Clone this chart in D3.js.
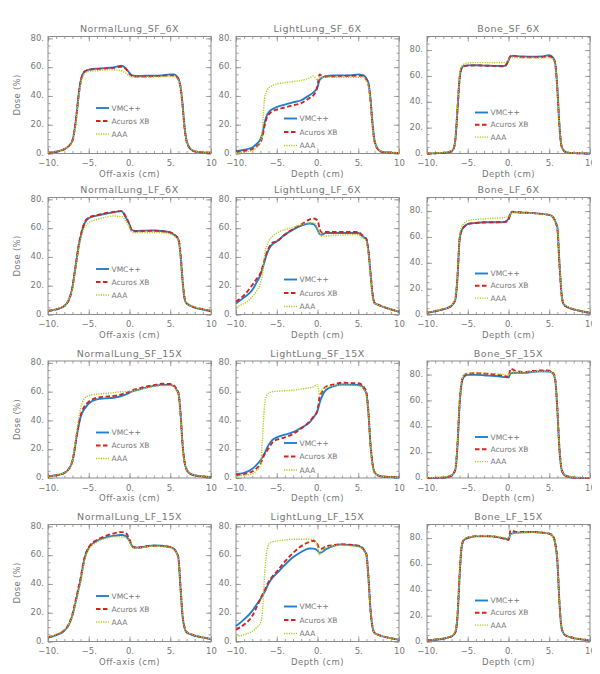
<meta charset="utf-8">
<svg width="600" height="674"></svg>
<script src="https://d3js.org/d3.v7.min.js"></script>
<script>
// sample positions (cm) shared by every profile
var position = [-10, -9, -8, -7.5, -7, -6.75, -6.5, -6.25, -6, -5.75, -5.5, -5, -4, -3, -2, -1, -0.5, 0,
  0.25, 0.5, 1, 2, 3, 4, 5, 5.5, 5.75, 6, 6.25, 6.5, 6.75, 7, 7.5, 8, 9, 10];

var panelTitles = ["NormalLung_SF_6X", "LightLung_SF_6X", "Bone_SF_6X",
  "NormalLung_LF_6X", "LightLung_LF_6X", "Bone_LF_6X",
  "NormalLung_SF_15X", "LightLung_SF_15X", "Bone_SF_15X",
  "NormalLung_LF_15X", "LightLung_LF_15X", "Bone_LF_15X"];
var xTitles = ["Off-axis (cm)", "Depth (cm)", "Depth (cm)"];
var seriesNames = ["VMC++", "Acuros XB", "AAA"];
var xTicks = [-10, -5, 0, 5, 10];
var yTicks = [0, 20, 40, 60, 80];

var vmcDose = [
  [0.5, 1.2, 3, 5, 9, 16, 27, 40, 50, 55, 57, 58.2, 59, 59.3, 59.8, 61, 59.5, 56, 54.5, 54, 53.8, 54, 54, 54.2, 55, 55, 54, 52, 47, 35, 19, 9, 3, 1.5, 0.8, 0.5],
  [1.6, 2.6, 4.2, 6.5, 10, 14, 21, 26, 28.5, 30, 31, 32.3, 34, 35.5, 37, 40.5, 42.5, 46, 51, 52.5, 53.5, 54.2, 54.3, 54.3, 55, 54.5, 54, 52, 49, 38, 21, 9, 2.5, 1, 0.6, 0.4],
  [0, 0.2, 0.4, 0.8, 1.8, 3.5, 12, 35, 58, 66, 67.5, 68.2, 68.3, 68, 67.8, 67.7, 67.7, 72, 75, 75.5, 75.3, 75, 74.8, 75, 76, 74, 69, 50, 22, 6, 2.5, 1.2, 0.5, 0.3, 0.1, 0],
  [2.4, 3.5, 5.9, 9.4, 18.8, 28, 37.6, 47, 54, 59.5, 63.5, 67, 68.7, 70, 71, 71.8, 68, 62.4, 59, 58.3, 58.1, 58.3, 58.4, 58, 57, 55.3, 54, 52, 42, 24, 11, 7.5, 6, 4.8, 3.5, 2.4],
  [7.7, 11.9, 17, 22, 27.5, 32, 36.8, 41.5, 45, 47.5, 49, 50.8, 55.5, 59, 61.8, 63.2, 62.8, 59, 56, 55.5, 56.6, 56.6, 56.6, 56.6, 56.6, 54.3, 53.5, 52, 44, 29, 14, 8, 6.5, 5.4, 3.5, 1.9],
  [1.3, 2.5, 4, 5, 6.6, 8.5, 12, 30, 58, 65, 67.3, 70, 70.8, 71.3, 71.3, 71.3, 71.5, 74, 78, 79.2, 79, 78.7, 78.4, 77.8, 77, 75.2, 72, 67.3, 40, 17, 8, 6.6, 5, 4, 2.5, 1.3],
  [1.2, 1.9, 3.5, 5.9, 11.8, 19, 28.2, 36, 42.4, 46, 48.2, 51.8, 54.6, 55.3, 55.8, 57, 58, 59.3, 60, 60.5, 61.2, 62.8, 64, 64.7, 64.7, 63.5, 61.5, 58.8, 46, 24, 11, 5.9, 2.8, 1.9, 1, 0.7],
  [2.8, 3.6, 6.4, 9, 12.3, 14.5, 17, 20, 23, 25, 26.6, 28.2, 30.1, 31.8, 34.9, 38.5, 42, 46.8, 52, 56, 61, 63.9, 65, 64.8, 64.6, 63.5, 61.5, 58.6, 45, 23, 10, 4, 1.7, 1, 0.6, 0.5],
  [0, 0.1, 0.3, 0.8, 1.8, 3.5, 7, 26, 57, 73, 78, 79.8, 79.8, 79.5, 79, 78.5, 78, 77.8, 81, 81.3, 81.3, 81.3, 82.2, 82.6, 82.4, 80.5, 75, 52, 22, 7, 3, 1.8, 0.8, 0.3, 0.1, 0],
  [2.8, 4.5, 7.5, 11, 18, 24, 30, 36.5, 42.8, 51, 58, 65, 70, 72.2, 73.4, 74, 73.4, 70, 67, 65.5, 65.2, 66, 66.8, 66.5, 65.6, 64, 62, 58, 38, 18, 9.5, 6.4, 5, 4, 2.8, 1.6],
  [10.7, 15.4, 21.3, 25.5, 29.6, 32, 34.3, 37.3, 40.2, 42.5, 44.5, 47.3, 53.3, 58.5, 62.2, 64.6, 64.5, 63.2, 61.5, 62, 64, 66.5, 67.5, 67, 66.3, 65, 63, 60.4, 44, 22, 10, 5.9, 4.5, 3.6, 2.3, 1.2],
  [0.8, 1.4, 2.1, 3, 3.9, 5, 7.3, 20, 50.6, 73, 78.2, 80, 81.3, 81.3, 81.3, 80.3, 79.6, 79, 83, 83.6, 84.2, 84.5, 84.7, 84.2, 83.4, 80.8, 75, 62, 30, 11, 6.5, 4.7, 3.5, 2.6, 1.6, 0.8]
];

var acurosDose = [
  [0.5, 1.2, 3, 5, 9, 16, 27, 40, 50, 55, 57, 58, 58.8, 59, 59.5, 60.3, 59, 55.5, 54, 53.5, 53.5, 53.5, 53.8, 54, 54.3, 54.2, 53.5, 51.5, 46, 34, 18, 8.5, 3, 1.5, 0.8, 0.5],
  [1, 1.8, 3, 5, 7.5, 12, 19, 24.5, 27, 28.5, 29.5, 30.5, 32, 33.5, 35, 38.5, 40.5, 47, 55, 54, 53.5, 53.5, 53.8, 54, 54, 54, 53.5, 51.5, 48, 37, 20, 8.5, 2.5, 1, 0.6, 0.4],
  [0, 0.2, 0.4, 0.8, 1.8, 3.5, 12, 35, 58, 66, 67.3, 68, 68.2, 68, 67.8, 67.5, 67.3, 72, 75.5, 75.8, 75, 74.5, 74.5, 74.5, 75, 73.5, 68.5, 49, 21, 6, 2.5, 1.2, 0.5, 0.3, 0.1, 0],
  [2.5, 3.6, 6, 9.5, 19, 28.5, 38, 47.5, 54.5, 60, 64, 67.3, 69, 70.3, 71.2, 71.8, 68.5, 62.5, 58.5, 57.8, 57.8, 58, 58.2, 57.8, 57, 55.5, 54.3, 52.5, 43, 25, 12, 8, 6.2, 5, 3.7, 2.5],
  [8.9, 13.5, 20.5, 24.5, 28.7, 33, 38, 42.5, 46, 48.5, 50, 50.8, 55.5, 59.4, 62.5, 66, 66.7, 65.5, 60, 57, 57.3, 57.3, 57.3, 57.3, 57.3, 55, 54, 52.5, 44, 29, 15, 8, 6.7, 5.5, 3.6, 2],
  [1.4, 2.6, 4.1, 5.1, 6.8, 8.7, 12.5, 30, 58.5, 65.5, 67.5, 70, 70.8, 71.2, 71.3, 71.5, 71.5, 73, 78.5, 79.5, 79.2, 78.8, 78.4, 77.8, 77, 75, 71.5, 66, 39, 16, 8, 6.6, 5, 4, 2.5, 1.3],
  [1.2, 1.9, 3.5, 5.9, 12, 19.5, 29, 37, 43.5, 47.5, 50, 53, 55.8, 56.5, 57, 58, 59, 60, 60.8, 61.3, 62, 63.5, 64.5, 65.5, 65.3, 64, 62, 59.3, 46, 24.5, 11.5, 6, 2.8, 1.9, 1, 0.7],
  [1.7, 2.8, 4.5, 6.5, 10, 13, 16.5, 18.5, 20.6, 23, 25, 26.6, 28.2, 30.6, 34.4, 39.2, 42.5, 46.8, 56.3, 59, 63.4, 65, 66.2, 66, 65.8, 64.5, 62.5, 60, 46, 24, 10, 4, 1.7, 1, 0.6, 0.5],
  [0, 0.1, 0.3, 0.8, 1.8, 3.5, 7.5, 27, 58, 74, 79, 80.8, 81, 80.8, 80.3, 79.5, 79, 78, 84.5, 84, 82.6, 82, 82.8, 83.2, 83, 81, 75.5, 53, 23, 7.5, 3.2, 1.8, 0.8, 0.3, 0.1, 0],
  [3, 4.7, 7.8, 11.5, 19, 25, 31, 37.5, 44, 52, 58.5, 65.5, 70.5, 73.2, 75, 76, 75.5, 71, 67, 65.5, 65.3, 66, 66.5, 66.3, 65.5, 64, 62, 58.3, 39, 19, 10, 6.6, 5.2, 4.1, 2.9, 1.7],
  [8.3, 11.8, 17.8, 23.5, 29.6, 32.5, 35.5, 38.5, 41.4, 43.5, 45.5, 48.5, 55.6, 61.5, 66.3, 69.1, 70, 67.5, 64.5, 64.5, 66, 67, 67.5, 67.2, 66.6, 65.2, 63.2, 60.6, 45, 22.5, 10, 6, 4.6, 3.6, 2.3, 1.2],
  [0.9, 1.5, 2.2, 3.1, 4, 5.2, 7.6, 21, 51.5, 73.5, 78.5, 80.3, 81.5, 81.5, 81.3, 80.3, 79.5, 78.5, 86, 85.5, 84.8, 84.7, 84.8, 84.3, 83.5, 81, 75.5, 62.5, 30.5, 11, 6.5, 4.8, 3.6, 2.7, 1.7, 0.9]
];

var aaaDose = [
  [0.8, 1.5, 3.2, 5, 8.5, 15, 25, 38, 48, 53, 55.5, 57, 57.5, 58, 58.2, 57.5, 56, 54, 53.2, 53, 53, 53, 53.2, 53.4, 53.5, 53.5, 53, 51, 46, 34, 19, 9, 3.5, 1.8, 1, 0.7],
  [0.5, 1, 2, 4, 8, 18, 38, 43, 45.5, 46.5, 47.3, 48.3, 49.3, 50, 50.8, 52.5, 53.8, 51, 52.5, 53, 53, 53, 53, 53, 53, 53, 52.5, 50.5, 47, 36, 20, 9, 3, 1.3, 0.7, 0.5],
  [0.3, 0.5, 0.8, 1.2, 2.2, 4, 13, 37, 60, 67.5, 69, 70, 70.3, 70.3, 70.3, 70.4, 70.5, 72.5, 74, 74.3, 74.3, 74, 74, 74, 74, 73, 68, 50, 23, 7, 3, 1.5, 0.8, 0.5, 0.3, 0.2],
  [2.6, 3.8, 6.2, 9.8, 18, 27, 36, 45, 52, 57, 60.5, 63.5, 66, 67.5, 68.5, 68, 65.5, 60.5, 57.5, 56.8, 56.8, 57, 57, 56.8, 56, 54.5, 53.3, 51.5, 42, 24.5, 12, 8, 6.3, 5.2, 3.8, 2.7],
  [5.4, 7.7, 12.4, 16, 21.7, 28, 41, 47.5, 50.8, 53, 54.5, 56.6, 59, 60.6, 62.5, 63.6, 63.8, 60, 56, 54.3, 54.5, 55, 55.2, 55.5, 55.5, 53.5, 52.5, 50.8, 42, 28, 14, 8, 6.5, 5.5, 3.8, 2.2],
  [1.6, 2.8, 4.3, 5.3, 7, 9, 13, 31, 60, 68, 70, 72.6, 73.5, 74, 74.4, 74.7, 75, 75.8, 78, 79.2, 79, 78.5, 78.2, 77.6, 77, 75.2, 72, 67.5, 41, 18, 8.5, 7, 5.3, 4.2, 2.7, 1.5],
  [1.3, 2, 3.7, 6, 12, 20, 31, 41, 48.5, 53, 55.5, 57.2, 58.2, 58.8, 59.3, 60, 60, 60, 60.3, 60.7, 61.2, 62.5, 63.5, 64.2, 64.2, 63, 61, 58.5, 45, 24, 11.5, 6, 3, 2, 1.1, 0.8],
  [1.2, 2, 2.8, 5, 8.8, 28, 50, 57, 59.1, 59.6, 60, 60.3, 60.6, 61, 61.8, 62.7, 63.5, 65, 57.5, 61, 63, 64.2, 64.6, 64.4, 64.1, 63, 61, 58.3, 45, 23, 9.5, 4, 1.8, 1.1, 0.7, 0.5],
  [0.2, 0.4, 0.8, 1.3, 2.2, 4, 8, 28, 59, 75, 79.5, 81, 81.2, 81, 80.8, 80.3, 79.8, 79.5, 81.5, 82, 82, 82, 82.3, 82.5, 82.3, 80.5, 75, 53, 23, 8, 3.5, 2, 1, 0.5, 0.3, 0.2],
  [3.2, 4.9, 8, 11.5, 18, 23.5, 29, 35, 41, 49.5, 56.5, 64, 69, 71.5, 72.7, 72.7, 72, 69.5, 66.5, 65, 65, 65.8, 66.3, 66, 65.3, 63.7, 61.8, 57.8, 39, 19, 10, 6.7, 5.3, 4.2, 3, 1.8],
  [3.6, 4.7, 7.1, 9.5, 13, 21, 46, 61, 67.5, 68.8, 69.3, 69.8, 70.5, 71, 71, 71, 71, 66, 60, 62.5, 65, 66.5, 67, 66.5, 65.8, 64.5, 62.5, 60, 44, 22, 10, 6, 4.6, 3.7, 2.4, 1.3],
  [1, 1.6, 2.4, 3.3, 4.2, 5.4, 8, 22, 52, 74, 79, 80.5, 81.5, 81.6, 81.5, 80.8, 80.3, 80, 82.5, 83.5, 84, 84.3, 84.5, 84, 83.2, 80.5, 74.5, 62, 30.5, 11.5, 6.8, 5, 3.7, 2.8, 1.8, 1]
];

var svg = d3.select("svg");
var colLeft = [40, 228, 419],
    rowTop = [28.5, 189.5, 353, 516.5],
    boxW = 163,
    boxH = 117;
var yMax = [81.3, 81.3, 90.5];
var legendTop = [71.5, 82, 76],
    legendGap = [13, 13.5, 12.3];

var axisColor = "#8c8c8c",
    textColor = "#777";
var seriesStyle = [
  {color: "#1f7fd3", width: 1.9, dash: null},
  {color: "#d3241e", width: 1.9, dash: "4.5,2.5"},
  {color: "#b3cb1a", width: 1.4, dash: "1.2,1.2"}
];
var font = "DejaVu Sans, sans-serif";

svg.append("rect").attr("width", 600).attr("height", 674).attr("fill", "#fff");

function xLabel(d) {
  if (d == 10) return "10";
  return (d < 0 ? "\u2212" + Math.abs(d) : d) + ".";
}

panelTitles.forEach(function(title, i) {
  var col = i % 3, row = Math.floor(i / 3);
  var left = colLeft[col], top = rowTop[row];
  var x = d3.scaleLinear().domain([-10, 10]).range([left, left + boxW]);
  var y = d3.scaleLinear().domain([0, yMax[col]]).range([top + boxH, top]);

  var g = svg.append("g");

  // minor + major ticks, pointing inward on all four sides
  function styleAxis(a) {
    a.select(".domain").remove();
    a.selectAll("line").attr("stroke", axisColor).attr("stroke-width", 0.8);
    a.selectAll("text").attr("fill", textColor).attr("font-family", font).attr("font-size", "8.5px");
  }
  g.append("g").attr("transform", "translate(0," + (top + boxH) + ")")
    .call(d3.axisBottom(x).tickValues(d3.range(-10, 11, 1)).tickSize(-2.5).tickFormat("")).call(styleAxis);
  g.append("g").attr("transform", "translate(0," + top + ")")
    .call(d3.axisTop(x).tickValues(d3.range(-10, 11, 1)).tickSize(-2.5).tickFormat("")).call(styleAxis);
  g.append("g").attr("transform", "translate(" + left + ",0)")
    .call(d3.axisLeft(y).tickValues(d3.range(0, yMax[col], 5)).tickSize(-2.5).tickFormat("")).call(styleAxis);
  g.append("g").attr("transform", "translate(" + (left + boxW) + ",0)")
    .call(d3.axisRight(y).tickValues(d3.range(0, yMax[col], 5)).tickSize(-2.5).tickFormat("")).call(styleAxis);

  g.append("g").attr("transform", "translate(0," + (top + boxH) + ")")
    .call(d3.axisBottom(x).tickValues(xTicks).tickSize(-5).tickPadding(6.5).tickFormat(xLabel)).call(styleAxis);
  g.append("g").attr("transform", "translate(0," + top + ")")
    .call(d3.axisTop(x).tickValues(xTicks).tickSize(-5).tickFormat("")).call(styleAxis);
  g.append("g").attr("transform", "translate(" + left + ",0)")
    .call(d3.axisLeft(y).tickValues(yTicks).tickSize(-5).tickPadding(4).tickFormat(function(d) { return d + "."; }))
    .call(styleAxis)
    .selectAll("text").attr("dy", "0.2em");
  g.append("g").attr("transform", "translate(" + (left + boxW) + ",0)")
    .call(d3.axisRight(y).tickValues(yTicks).tickSize(-5).tickFormat("")).call(styleAxis);

  g.append("rect")
    .attr("x", left).attr("y", top).attr("width", boxW).attr("height", boxH)
    .attr("fill", "none").attr("stroke", axisColor).attr("stroke-width", 1);

  // profiles
  var line = d3.line()
    .x(function(d, k) { return x(position[k]); })
    .y(function(d) { return y(d); })
    .curve(d3.curveMonotoneX);
  [vmcDose[i], acurosDose[i], aaaDose[i]].forEach(function(dose, s) {
    g.append("path")
      .attr("d", line(dose))
      .attr("fill", "none")
      .attr("stroke", seriesStyle[s].color)
      .attr("stroke-width", seriesStyle[s].width)
      .attr("stroke-dasharray", seriesStyle[s].dash);
  });

  // legend
  seriesNames.forEach(function(name, s) {
    var ly = top + legendTop[col] + s * legendGap[col];
    g.append("line")
      .attr("x1", left + 48).attr("x2", left + 61)
      .attr("y1", ly).attr("y2", ly)
      .attr("stroke", seriesStyle[s].color)
      .attr("stroke-width", seriesStyle[s].width)
      .attr("stroke-dasharray", seriesStyle[s].dash);
    g.append("text")
      .attr("x", left + 63.5).attr("y", ly).attr("dy", "0.35em")
      .attr("fill", textColor).attr("font-family", font).attr("font-size", "7.5px")
      .text(name);
  });

  // titles
  g.append("text")
    .attr("x", left + boxW / 2).attr("y", top - 4.5)
    .attr("text-anchor", "middle").attr("fill", textColor)
    .attr("font-family", font).attr("font-size", "9.5px").attr("letter-spacing", "0.5px")
    .text(title);
  g.append("text")
    .attr("x", left + boxW / 2).attr("y", top + boxH + 23)
    .attr("text-anchor", "middle").attr("fill", textColor)
    .attr("font-family", font).attr("font-size", "8.5px").attr("letter-spacing", "0.5px")
    .text(xTitles[col]);
  if (col == 0) {
    g.append("text")
      .attr("transform", "translate(" + (left - 28) + "," + (top + boxH / 2) + ") rotate(-90)")
      .attr("text-anchor", "middle").attr("fill", textColor)
      .attr("font-family", font).attr("font-size", "8.5px").attr("letter-spacing", "0.3px")
      .text("Dose (%)");
  }
});
</script>
